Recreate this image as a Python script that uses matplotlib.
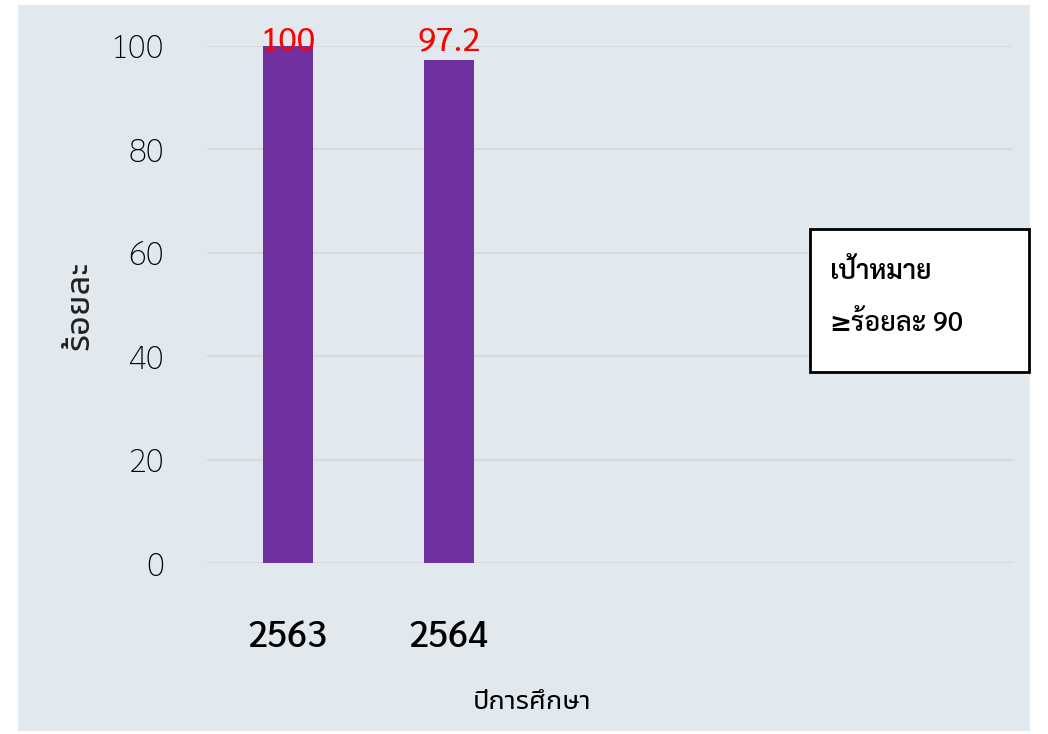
import matplotlib
matplotlib.use('Agg')
import matplotlib.pyplot as plt
from matplotlib.patches import Rectangle

plt.rcParams['font.family'] = ['Sarabun', 'DejaVu Sans']
thai_ui = ['Noto Sans Thai UI', 'Noto Sans Thai', 'DejaVu Sans']

years = ['2563', '2564']
values = [100, 97.2]
n_slots = 5
yticks = [0, 20, 40, 60, 80, 100]

fig = plt.figure(figsize=(10.48, 7.34), dpi=100)
fig.patch.set_facecolor('white')
# light panel behind the chart
fig.patches.append(Rectangle((18/1048, 1 - 731/734), 1012/1048, 726/734,
                             transform=fig.transFigure, facecolor='#E1E9EF',
                             edgecolor='none', zorder=-10))

ax = fig.add_axes([207/1048, 1 - 563/734, 806/1048, 517/734])
ax.set_facecolor('none')
x = list(range(len(years)))
ax.bar(x, values, width=0.31, color='#7030A0', zorder=3)
for i, v in zip(x, values):
    ax.text(i, min(v + 3.6, 100.8), f'{v:g}', ha='center', va='center',
            color='red', fontsize=24, zorder=4)

ax.set_xlim(-0.5, n_slots - 0.5)
ax.set_ylim(0, 100)
ax.set_yticks(yticks)
ax.set_yticklabels([str(t) for t in yticks], fontsize=24, fontweight=250)
ax.set_xticks(x)
ax.set_xticklabels(years, fontsize=26, fontweight=500)
ax.tick_params(length=0, pad=40, axis='x')
ax.tick_params(length=0, pad=31, axis='y')
ax.grid(axis='y', color='#D9D9D9', linewidth=1.5, zorder=0)
for s in ax.spines.values():
    s.set_visible(False)

fig.text(80/1048, 1 - 305/734, 'ร้อยละ', rotation=90, ha='center', va='center',
         fontsize=25, family=thai_ui, color='#202020')
fig.text(532/1048, 1 - 702/734, 'ปีการศึกษา', ha='center', va='center',
         fontsize=19.5, family=thai_ui)

# target box
fig.patches.append(Rectangle((810/1048, 1 - 372/734), 219/1048, 143/734,
                             transform=fig.transFigure, facecolor='white',
                             edgecolor='black', linewidth=2, zorder=5))
fig.text(830/1048, 1 - 272/734, 'เป้าหมาย', ha='left', va='center',
         fontsize=19, fontweight=600, zorder=6)
fig.text(829/1048, 1 - 324/734, '≥', ha='left', va='center',
         fontsize=19, fontweight='bold', family=['DejaVu Sans'], zorder=6)
fig.text(851/1048, 1 - 325/734, 'ร้อยละ 90', ha='left', va='center',
         fontsize=19.5, fontweight=500, zorder=6)

fig.savefig('out.png', dpi=100)
